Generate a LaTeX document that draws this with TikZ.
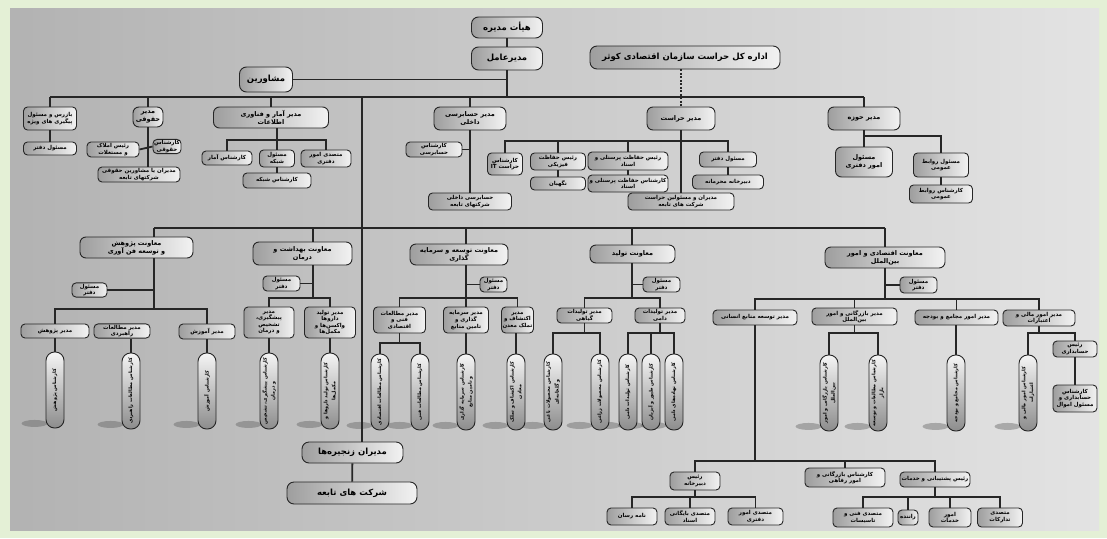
\documentclass[tikz,border=0pt]{standalone}
\usepackage{fontspec}
\newfontfamily\fafont[Script=Arabic]{DejaVu Sans}
\TeXXeTstate=1
\usetikzlibrary{backgrounds}
\newcommand{\fa}[1]{\beginR#1\endR}
\newcommand{\vt}[1]{\rotatebox{90}{\shortstack{#1}}}
\definecolor{framegreen}{RGB}{228,240,214}

\tikzset{
  box/.style={draw=black!85, line width=.9pt, rounded corners=4pt,
    left color=black!38, right color=black!5, inner sep=1pt, align=center,
    font=\fafont\bfseries\fontsize{5.5}{6.6}\selectfont},
  midbox/.style={box, rounded corners=6pt, font=\fafont\bfseries\fontsize{6.5}{7.8}\selectfont},
  bigbox/.style={box, rounded corners=7pt, font=\fafont\bfseries\fontsize{8.5}{10}\selectfont},
  pill/.style={draw=black!85, line width=.9pt, rounded corners=8.5pt,
    top color=black!4, bottom color=black!45, minimum width=18pt,
    minimum height=76pt, inner sep=0pt,
    font=\fafont\bfseries\fontsize{4.8}{5.6}\selectfont},
  wire/.style={line width=1.8pt, black!85},
}

\begin{document}
\begin{tikzpicture}[x=1pt, y=-1pt]
  \useasboundingbox (0,0) rectangle (1107,538);

  % top
  \node[bigbox, minimum width=71pt, minimum height=21pt] (board) at (507,27.5) {\fa{هیأت مدیره}};
  \node[bigbox, minimum width=71pt, minimum height=23pt] (ceo) at (507,58.5) {\fa{مدیرعامل}};
  \node[bigbox, minimum width=53pt, minimum height=25pt] (advisors) at (266,79.5) {\fa{مشاورین}};
  \node[bigbox, minimum width=190pt, minimum height=23pt] (herasatkol) at (685,57.5) {\fa{اداره کل حراست سازمان اقتصادی کوثر}};

  % first row
  \node[box, minimum width=53pt, minimum height=23pt] (bazres) at (50,118.5) {\fa{بازرس و مسئول}\\\fa{پیگیری های ویژه}};
  \node[box, minimum width=53pt, minimum height=13pt] (bazresdaftar) at (50,148.5) {\fa{مسئول دفتر}};
  \node[midbox, minimum width=30pt, minimum height=20pt] (hoghoghi) at (148,117) {\fa{مدیر}\\\fa{حقوقی}};
  \node[box, minimum width=52pt, minimum height=15pt] (amlak) at (113,149.5) {\fa{رئیس املاک}\\\fa{و مستغلات}};
  \node[box, minimum width=28pt, minimum height=13pt] (karhogh) at (167,146.5) {\fa{کارشناس}\\\fa{حقوقی}};
  \node[box, minimum width=82pt, minimum height=15pt] (hoghsherkat) at (139,174.5) {\fa{مدیران یا مشاورین حقوقی}\\\fa{شرکتهای تابعه}};
  \node[midbox, minimum width=115pt, minimum height=21pt] (amar) at (271,117.5) {\fa{مدیر آمار و فناوری}\\\fa{اطلاعات}};
  \node[box, minimum width=50pt, minimum height=14pt] (karamar) at (227,158) {\fa{کارشناس آمار}};
  \node[box, minimum width=35pt, minimum height=17pt] (shabake) at (277,158.5) {\fa{مسئول}\\\fa{شبکه}};
  \node[box, minimum width=50pt, minimum height=17pt] (daftari) at (326,158.5) {\fa{متصدی امور}\\\fa{دفتری}};
  \node[box, minimum width=68pt, minimum height=15pt] (karshabake) at (277,180.5) {\fa{کارشناس شبکه}};
  \node[midbox, minimum width=72pt, minimum height=23pt] (hesabrasi) at (470,118.5) {\fa{مدیر حسابرسی}\\\fa{داخلی}};
  \node[box, minimum width=56pt, minimum height=15pt] (karhesab) at (434,149.5) {\fa{کارشناس}\\\fa{حسابرسی}};
  \node[box, minimum width=83pt, minimum height=17pt] (hesabsherkat) at (470,201.5) {\fa{حسابرسی داخلی}\\\fa{شرکتهای تابعه}};
  \node[midbox, minimum width=68pt, minimum height=23pt] (herasat) at (681,118.5) {\fa{مدیر حراست}};
  \node[box, minimum width=35pt, minimum height=22pt] (kit) at (505,164) {\fa{کارشناس}\\\fa{حراست \beginL IT\endL}};
  \node[box, minimum width=55pt, minimum height=17pt] (fiziki) at (558,161.5) {\fa{رئیس حفاظت}\\\fa{فیزیکی}};
  \node[box, minimum width=55pt, minimum height=13pt] (negahban) at (558,183.5) {\fa{نگهبان}};
  \node[box, minimum width=80pt, minimum height=18pt] (personeli) at (628,161) {\fa{رئیس حفاظت پرسنلی و}\\\fa{اسناد}};
  \node[box, minimum width=80pt, minimum height=17pt] (karpersoneli) at (628,183.5) {\fa{کارشناس حفاظت پرسنلی و}\\\fa{اسناد}};
  \node[box, minimum width=57pt, minimum height=15pt] (herdaftar) at (728,159.5) {\fa{مسئول دفتر}};
  \node[box, minimum width=71pt, minimum height=14pt] (mahramane) at (728,182) {\fa{دبیرخانه محرمانه}};
  \node[box, minimum width=106pt, minimum height=17pt] (hersherkat) at (681,201.5) {\fa{مدیران و مسئولین حراست}\\\fa{شرکت های تابعه}};
  \node[midbox, minimum width=72pt, minimum height=23pt] (hozeh) at (864,118.5) {\fa{مدیر حوزه}};
  \node[midbox, minimum width=57pt, minimum height=30pt] (omurdaftari) at (864,162) {\fa{مسئول}\\\fa{امور دفتری}};
  \node[box, minimum width=55pt, minimum height=24pt] (ravabet) at (941,165) {\fa{مسئول روابط}\\\fa{عمومی}};
  \node[box, minimum width=63pt, minimum height=18pt] (karravabet) at (941,194) {\fa{کارشناس روابط}\\\fa{عمومی}};

  % second row
  \node[midbox, minimum width=113pt, minimum height=21pt] (pajohesh) at (136.5,247.5) {\fa{معاونت پژوهش}\\\fa{و توسعه فن آوری}};
  \node[box, minimum width=35pt, minimum height=14pt] (pajdaftar) at (89.5,290) {\fa{مسئول}\\\fa{دفتر}};
  \node[box, minimum width=68pt, minimum height=14pt] (mpajohesh) at (55,331) {\fa{مدیر پژوهش}};
  \node[box, minimum width=56pt, minimum height=14pt] (mmotaleat) at (122,331) {\fa{مدیر مطالعات}\\\fa{راهبردی}};
  \node[box, minimum width=56pt, minimum height=15pt] (mamuzesh) at (207,331.5) {\fa{مدیر آموزش}};
  \node[pill] (ppajohesh) at (55,390) {\vt{\fa{کارشناس پژوهش}}};
  \node[pill] (pmotaleat) at (131,391) {\vt{\fa{کارشناس مطالعات راهبردی}}};
  \node[pill] (pamuzesh) at (207,391) {\vt{\fa{کارشناس آموزش}}};

  \node[midbox, minimum width=99pt, minimum height=23pt] (behdasht) at (302.5,253.5) {\fa{معاونت بهداشت و}\\\fa{درمان}};
  \node[box, minimum width=37pt, minimum height=15pt] (behdaftar) at (281.5,283.5) {\fa{مسئول}\\\fa{دفتر}};
  \node[box, minimum width=50pt, minimum height=31pt] (pishgiri) at (269,322.5) {\fa{مدیر}\\\fa{پیشگیری،}\\\fa{تشخیص}\\\fa{و درمان}};
  \node[box, minimum width=51pt, minimum height=31pt] (darou) at (330,322.5) {\fa{مدیر تولید}\\\fa{داروها}\\\fa{واکسن‌ها و}\\\fa{مکمل‌ها}};
  \node[pill] (ppishgiri) at (269,391) {\vt{\fa{کارشناس پیشگیری، تشخیص}\\\fa{و درمان}}};
  \node[pill] (pdarou) at (330,391) {\vt{\fa{کارشناس تولید داروها و}\\\fa{مکمل‌ها}}};

  \node[midbox, minimum width=98pt, minimum height=21pt] (tosee) at (459,254.5) {\fa{معاونت توسعه و سرمایه}\\\fa{گذاری}};
  \node[box, minimum width=27pt, minimum height=15pt] (tosdaftar) at (493.5,284.5) {\fa{مسئول}\\\fa{دفتر}};
  \node[box, minimum width=52pt, minimum height=26pt] (mfani) at (399.5,320) {\fa{مدیر مطالعات}\\\fa{فنی و}\\\fa{اقتصادی}};
  \node[box, minimum width=45pt, minimum height=26pt] (msarmaye) at (466,320) {\fa{مدیر سرمایه}\\\fa{گذاری و}\\\fa{تامین منابع}};
  \node[box, minimum width=29pt, minimum height=26pt] (mekteshaf) at (517.5,320) {\fa{مدیر}\\\fa{اکتشاف و}\\\fa{تملک معدن}};
  \node[pill] (peghtesadi) at (380,392) {\vt{\fa{کارشناس مطالعات اقتصادی}}};
  \node[pill] (pfani) at (420,392) {\vt{\fa{کارشناس مطالعات فنی}}};
  \node[pill] (psarmaye) at (466,392) {\vt{\fa{کارشناس سرمایه گذاری}\\\fa{و تامین منابع}}};
  \node[pill] (pekteshaf) at (516,392) {\vt{\fa{کارشناس اکتشاف و تملک}\\\fa{معادن}}};

  \node[midbox, minimum width=85pt, minimum height=18pt] (tolid) at (632.5,254) {\fa{معاونت تولید}};
  \node[box, minimum width=37pt, minimum height=15pt] (toldaftar) at (661.5,284.5) {\fa{مسئول}\\\fa{دفتر}};
  \node[box, minimum width=55pt, minimum height=15pt] (giyahi) at (584.5,315.5) {\fa{مدیر تولیدات}\\\fa{گیاهی}};
  \node[box, minimum width=50pt, minimum height=15pt] (dami) at (660,315.5) {\fa{مدیر تولیدات}\\\fa{دامی}};
  \node[pill] (pbagh) at (553,392) {\vt{\fa{کارشناس محصولات باغی}\\\fa{و گلخانه‌ای}}};
  \node[pill] (pzerai) at (600,392) {\vt{\fa{کارشناس محصولات زراعی}}};
  \node[pill] (pdami) at (628,392) {\vt{\fa{کارشناس تولیدات دامی}}};
  \node[pill] (ptiyur) at (651,392) {\vt{\fa{کارشناس طیور و آبزیان}}};
  \node[pill] (pnahade) at (674,392) {\vt{\fa{کارشناس نهاده‌های دامی}}};

  \node[midbox, minimum width=120pt, minimum height=21pt] (eghtesadi) at (885,257.5) {\fa{معاونت اقتصادی و امور}\\\fa{بین‌الملل}};
  \node[box, minimum width=37pt, minimum height=16pt] (egdaftar) at (918.5,285) {\fa{مسئول}\\\fa{دفتر}};
  \node[box, minimum width=84pt, minimum height=15pt] (mensani) at (755,317.5) {\fa{مدیر توسعه منابع انسانی}};
  \node[box, minimum width=85pt, minimum height=17pt] (mbazargani) at (854.5,316.5) {\fa{مدیر بازرگانی و امور}\\\fa{بین‌الملل}};
  \node[box, minimum width=83pt, minimum height=15pt] (mmajame) at (956.5,317.5) {\fa{مدیر امور مجامع و بودجه}};
  \node[box, minimum width=72pt, minimum height=16pt] (mmali) at (1039,318) {\fa{مدیر امور مالی و}\\\fa{اعتبارات}};
  \node[pill] (pbazargani) at (829,393) {\vt{\fa{کارشناس بازرگانی و امور}\\\fa{بین‌الملل}}};
  \node[pill] (pbazar) at (878,393) {\vt{\fa{کارشناس مطالعات و توسعه}\\\fa{بازار}}};
  \node[pill] (pmajame) at (956,393) {\vt{\fa{کارشناس مجامع و بودجه}}};
  \node[pill] (pmali) at (1028,393) {\vt{\fa{کارشناس امور مالی و}\\\fa{اعتبارات}}};
  \node[box, minimum width=44pt, minimum height=16pt] (rhesabdari) at (1075,349) {\fa{رئیس}\\\fa{حسابداری}};
  \node[box, minimum width=44pt, minimum height=27pt] (khesabdari) at (1075,398.5) {\fa{کارشناس}\\\fa{حسابداری و}\\\fa{مسئول اموال}};

  % bottom right
  \node[box, minimum width=50pt, minimum height=18pt] (rdabirkhane) at (695,481) {\fa{رئیس}\\\fa{دبیرخانه}};
  \node[box, minimum width=80pt, minimum height=19pt] (kbazargani) at (845,477.5) {\fa{کارشناس بازرگانی و}\\\fa{امور رفاهی}};
  \node[box, minimum width=70pt, minimum height=15pt] (rposhtibani) at (935,479.5) {\fa{رئیس پشتیبانی و خدمات}};
  \node[box, minimum width=50pt, minimum height=17pt] (nameresan) at (632,516.5) {\fa{نامه رسان}};
  \node[box, minimum width=50pt, minimum height=17pt] (baygani) at (690,516.5) {\fa{متصدی بایگانی}\\\fa{اسناد}};
  \node[box, minimum width=55pt, minimum height=17pt] (omurdaftari2) at (755.5,516.5) {\fa{متصدی امور}\\\fa{دفتری}};
  \node[box, minimum width=60pt, minimum height=19pt] (fanitasisat) at (863,517.5) {\fa{متصدی فنی و}\\\fa{تاسیسات}};
  \node[box, minimum width=20pt, minimum height=15pt] (ranande) at (908,517.5) {\fa{راننده}};
  \node[box, minimum width=42pt, minimum height=19pt] (khadamat) at (950,517.5) {\fa{امور}\\\fa{خدمات}};
  \node[box, minimum width=45pt, minimum height=19pt] (tadarokat) at (1000,517.5) {\fa{متصدی}\\\fa{تدارکات}};

  % trunk end
  \node[bigbox, minimum width=101pt, minimum height=21pt] (zanjire) at (352.5,452.5) {\fa{مدیران زنجیره‌ها}};
  \node[bigbox, minimum width=130pt, minimum height=22pt] (tabee) at (352,493) {\fa{شرکت های تابعه}};

  % buses
  \coordinate (b1w) at (50,97);
  \coordinate (b1e) at (864,97);
  \coordinate (trunk) at (362,97);
  \coordinate (ab) at (277,140);
  \coordinate (hb) at (681,141);
  \coordinate (hz) at (864,136);
  \coordinate (b2w) at (154,228);
  \coordinate (b2e) at (885,228);
  \coordinate (pb) at (154,309);
  \coordinate (bb) at (313,298);
  \coordinate (tb) at (466,298);
  \coordinate (fb) at (399.5,343);
  \coordinate (ob) at (632,298);
  \coordinate (gb) at (584.5,333);
  \coordinate (db) at (660,333);
  \coordinate (eb) at (885,299);
  \coordinate (zb) at (854.5,333);
  \coordinate (lb) at (1039,333);
  \coordinate (nb) at (755,461);
  \coordinate (rb) at (695,497);
  \coordinate (sb) at (935,497);

  % top links
  \draw[wire] (board) -- (ceo);
  \draw[wire] (ceo.south) -- (ceo.south |- b1w);
  \draw[wire] (advisors.east) -- (advisors.east -| ceo.south);
  \draw[wire] (b1w) -- (b1e);
  \draw[wire, line width=1.5pt, dash pattern=on 2pt off 1.5pt] (herasatkol.south -| herasat.north) -- (herasat.north);
  \draw[wire] (trunk) -- (trunk |- zanjire.north);
  \draw[wire] (zanjire) -- (tabee);

  % first row links
  \draw[wire] (b1w) -- (bazres.north);
  \draw[wire] (bazres) -- (bazresdaftar);
  \draw[wire] (hoghoghi.north |- b1w) -- (hoghoghi.north);
  \draw[wire] (hoghoghi.south) -- (hoghoghi.south |- hoghsherkat.north);
  \draw[wire] (amlak.east) -- (karhogh.west);
  \draw[wire] (amar.north |- b1w) -- (amar.north);
  \draw[wire] (amar.south -| ab) -- (ab);
  \draw[wire] (karamar.north) |- (ab) -| (daftari.north);
  \draw[wire] (ab) -- (shabake.north);
  \draw[wire] (shabake) -- (karshabake);
  \draw[wire] (hesabrasi.north |- b1w) -- (hesabrasi.north);
  \draw[wire] (hesabrasi.south) -- (hesabrasi.south |- hesabsherkat.north);
  \draw[wire] (karhesab.east) -- (karhesab.east -| hesabrasi.south);
  \draw[wire] (herasat.south) -- (herasat.south |- hersherkat.north);
  \draw[wire] (kit.north) |- (hb) -| (herdaftar.north);
  \draw[wire] (fiziki.north |- hb) -- (fiziki.north);
  \draw[wire] (personeli.north |- hb) -- (personeli.north);
  \draw[wire] (fiziki) -- (negahban);
  \draw[wire] (personeli) -- (karpersoneli);
  \draw[wire] (herdaftar) -- (mahramane);
  \draw[wire] (b1e) -- (hozeh.north);
  \draw[wire] (hozeh.south) -- (hz);
  \draw[wire] (omurdaftari.north) |- (hz) -| (ravabet.north);
  \draw[wire] (ravabet) -- (karravabet);

  % second row links
  \draw[wire] (b2w) -- (b2e);
  \draw[wire] (b2w) -- (b2w |- pajohesh.north);
  \draw[wire] (pb |- pajohesh.south) -- (pb);
  \draw[wire] (mpajohesh.north) |- (pb) -| (mamuzesh.north);
  \draw[wire] (pajdaftar.east) -- (pajdaftar.east -| pb);
  \draw[wire] (mpajohesh) -- (ppajohesh);
  \draw[wire] (mmotaleat.south -| pmotaleat.north) -- (pmotaleat.north);
  \draw[wire] (mamuzesh) -- (pamuzesh);

  \draw[wire] (bb |- b2w) -- (bb |- behdasht.north);
  \draw[wire] (bb |- behdasht.south) -- (bb);
  \draw[wire] (pishgiri.north) |- (bb) -| (darou.north);
  \draw[wire] (behdaftar.east) -- (behdaftar.east -| bb);
  \draw[wire] (pishgiri) -- (ppishgiri);
  \draw[wire] (darou) -- (pdarou);

  \draw[wire] (tb |- b2w) -- (tb |- tosee.north);
  \draw[wire] (tb |- tosee.south) -- (tb);
  \draw[wire] (mfani.north) |- (tb) -| (mekteshaf.north);
  \draw[wire] (tb) -- (msarmaye.north);
  \draw[wire] (tosdaftar.west) -- (tosdaftar.west -| tb);
  \draw[wire] (mfani.south) -- (fb);
  \draw[wire] (peghtesadi.north) |- (fb) -| (pfani.north);
  \draw[wire] (msarmaye) -- (psarmaye);
  \draw[wire] (mekteshaf.south -| pekteshaf.north) -- (pekteshaf.north);

  \draw[wire] (ob |- b2w) -- (ob |- tolid.north);
  \draw[wire] (ob |- tolid.south) -- (ob);
  \draw[wire] (giyahi.north) |- (ob) -| (dami.north);
  \draw[wire] (toldaftar.west) -- (toldaftar.west -| ob);
  \draw[wire] (giyahi.south) -- (gb);
  \draw[wire] (pbagh.north) |- (gb) -| (pzerai.north);
  \draw[wire] (dami.south) -- (db);
  \draw[wire] (pdami.north) |- (db) -| (pnahade.north);
  \draw[wire] (ptiyur.north |- db) -- (ptiyur.north);

  \draw[wire] (b2e) -- (eghtesadi.north);
  \draw[wire] (eghtesadi.south) -- (eb);
  \draw[wire] (egdaftar.west) -- (egdaftar.west -| eb);
  \draw[wire] (mensani.north) |- (eb) -| (mmali.north);
  \draw[wire] (mbazargani.north |- eb) -- (mbazargani.north);
  \draw[wire] (mmajame.north |- eb) -- (mmajame.north);
  \draw[wire] (mbazargani.south) -- (zb);
  \draw[wire] (pbazargani.north) |- (zb) -| (pbazar.north);
  \draw[wire] (mmajame.south -| pmajame.north) -- (pmajame.north);
  \draw[wire] (mmali.south) -- (lb);
  \draw[wire] (pmali.north) |- (lb) -| (rhesabdari.north);
  \draw[wire] (rhesabdari) -- (khesabdari);

  % bottom right links
  \draw[wire] (mensani.south) -- (nb);
  \draw[wire] (rdabirkhane.north) |- (nb) -| (rposhtibani.north);
  \draw[wire] (kbazargani.north |- nb) -- (kbazargani.north);
  \draw[wire] (rdabirkhane.south) -- (rb);
  \draw[wire] (nameresan.north) |- (rb) -| (omurdaftari2.north);
  \draw[wire] (baygani.north |- rb) -- (baygani.north);
  \draw[wire] (rposhtibani.south) -- (sb);
  \draw[wire] (fanitasisat.north) |- (sb) -| (tadarokat.north);
  \draw[wire] (ranande.north |- sb) -- (ranande.north);
  \draw[wire] (khadamat.north |- sb) -- (khadamat.north);

  % photo and shadows
  \begin{scope}[on background layer]
    \fill[framegreen] (0,0) rectangle (1107,538);
    \shade[left color=black!30, middle color=black!13, right color=black!11] (10,8) rectangle (1099,530);
    \foreach \p in {ppajohesh,pmotaleat,pamuzesh,ppishgiri,pdarou,peghtesadi,pfani,psarmaye,pekteshaf,pbagh,pzerai,pdami,ptiyur,pnahade,pbazargani,pbazar,pmajame,pmali}
      \fill[black!65, opacity=.4] ([xshift=-11pt, yshift=5pt]\p.south west) ellipse (13pt and 3.5pt);
  \end{scope}
\end{tikzpicture}
\end{document}
